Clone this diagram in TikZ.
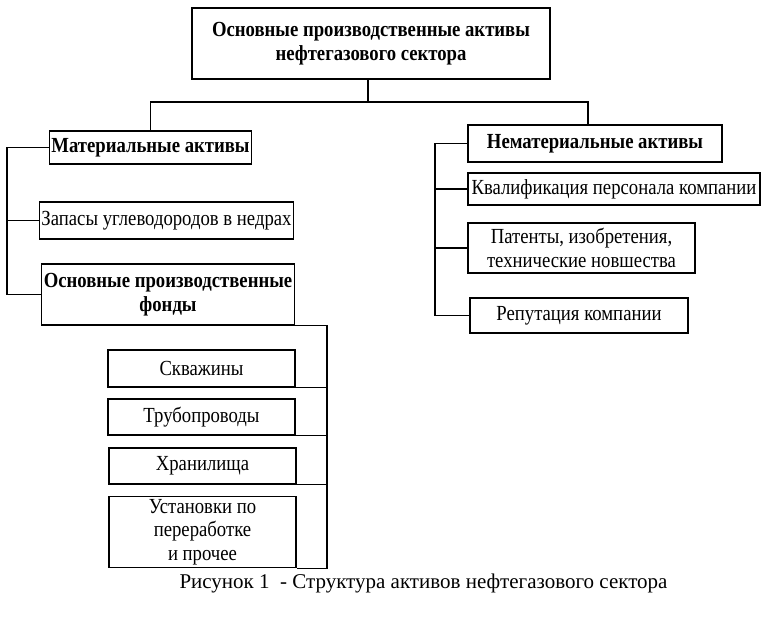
\documentclass[tikz,border=0pt]{standalone}
\usepackage{fontspec}
\setmainfont{Liberation Serif}
\newfontfamily\boxfont{Liberation Serif}[FakeStretch=0.87]
\usetikzlibrary{positioning,calc}

\begin{document}
\begin{tikzpicture}[x=1pt,y=-1pt,semithick]
	\tikzset{box/.style = {shape=rectangle,draw,line width=1.1pt,inner sep=2pt,align=center,
		font=\boxfont\fontsize{21.5}{23.5}\selectfont}}
	\tikzset{hbox/.style = {box,font=\boxfont\fontsize{21.5}{23.5}\selectfont\bfseries}}
	\tikzset{link/.style = {line width=1.1pt}}
	\useasboundingbox (0,0) rectangle (772,633);
	% vertices
	\node[hbox,minimum width=358,minimum height=71] (top) at (371,43.5) {Основные производственные активы\\нефтегазового сектора};
	\node[hbox,minimum width=199,minimum height=33] (mat) at (150.5,147.5) {Материальные активы};
	\node[hbox,minimum width=254,minimum height=37] (nemat) at (595,143.5) {Нематериальные активы};
	\node[box,minimum width=251,minimum height=37] (zapasy) at (166.5,220.5) {Запасы углеводородов в недрах};
	\node[hbox,minimum width=250,minimum height=61] (fondy) at (168,294.5) {Основные производственные\\фонды};
	\node[box,minimum width=292,minimum height=32] (kvalif) at (614,189) {Квалификация персонала компании};
	\node[box,minimum width=227,minimum height=50] (patenty) at (581.5,248) {Патенты, изобретения,\\технические новшества};
	\node[box,minimum width=218,minimum height=35] (reput) at (579,315.5) {Репутация компании};
	\node[box,minimum width=187,minimum height=37] (skv) at (201.5,368.5) {Скважины};
	\node[box,minimum width=187,minimum height=36] (truby) at (201.5,417) {Трубопроводы};
	\node[box,minimum width=187,minimum height=36] (hran) at (202.5,466) {Хранилища};
	\node[box,minimum width=187,minimum height=71] (ustan) at (202.5,532) {Установки по\\переработке\\и прочее};
	\node[font=\fontsize{21}{23}\selectfont,anchor=base] (caption) at (423.5,588) {Рисунок 1\ \ - Структура активов нефтегазового сектора};
	\coordinate (split) at (368,102);
	\coordinate (lbus) at (7,0);
	\coordinate (rbus) at (435,0);
	\coordinate (fbus) at (327,0);
	%edges
	\draw[link] (split |- top.south) -- (split);
	\draw[link] (split) -| (mat.north);
	\draw[link] (split) -| ([xshift=-7]nemat.north);

	\draw[link] (mat.west) -| (lbus |- fondy.west) -- (fondy.west);
	\draw[link] (zapasy.west) -- (lbus |- zapasy.west);

	\draw[link] (nemat.west) -| (rbus |- reput.west) -- (reput.west);
	\draw[link] (kvalif.west) -- (rbus |- kvalif.west);
	\draw[link] (patenty.west) -- (rbus |- patenty.west);

	\draw[link] (fondy.south east) -- (fbus |- fondy.south east) -- (fbus |- ustan.south east) -- (ustan.south east);
	\draw[link] (skv.south east) -- (fbus |- skv.south east);
	\draw[link] (truby.south east) -- (fbus |- truby.south east);
	\draw[link] (hran.south east) -- (fbus |- hran.south east);
\end{tikzpicture}
\end{document}
